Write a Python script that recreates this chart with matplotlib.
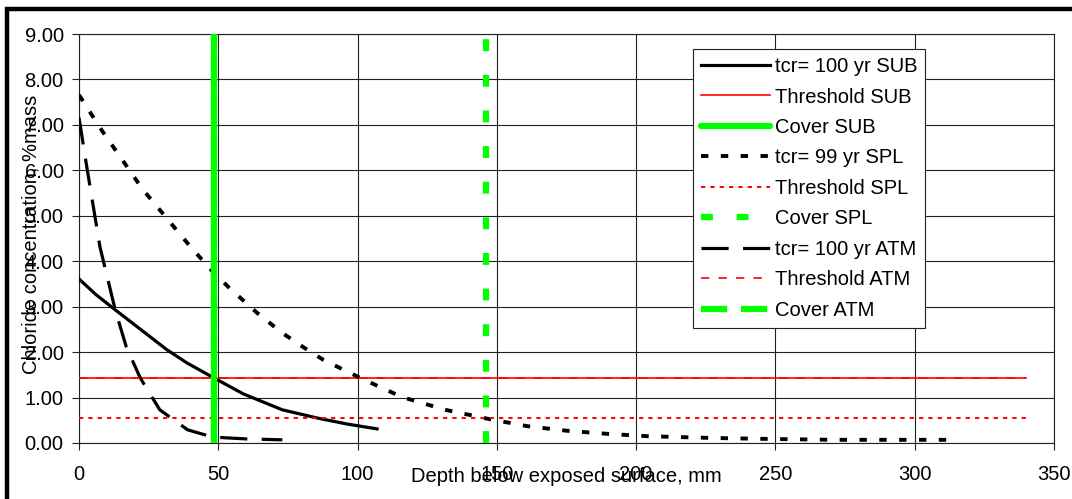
import numpy as np
import matplotlib
matplotlib.use("Agg")
import matplotlib.pyplot as plt
from matplotlib.patches import Rectangle
from matplotlib.ticker import FormatStrFormatter

plt.rcParams["font.family"] = ["Liberation Sans", "DejaVu Sans"]

# chloride profiles (depth mm, %mass)
sub_x = [0, 6, 13, 20, 31.6, 38.8, 48.5, 59, 73, 85.5, 96, 107]
sub_y = [3.61, 3.27, 2.93, 2.6, 2.05, 1.76, 1.43, 1.08, 0.73, 0.55, 0.42, 0.31]

spl_x = [0, 7.5, 23, 40, 48, 54, 64, 73, 80.5, 87.7, 101.7, 116, 131.5, 147,
         161, 175, 190, 204, 228, 247, 271, 301, 315]
spl_y = [7.66, 6.94, 5.57, 4.32, 3.77, 3.41, 2.86, 2.42, 2.11, 1.83, 1.41, 1.01,
         0.73, 0.53, 0.37, 0.27, 0.2, 0.15, 0.11, 0.09, 0.07, 0.07, 0.07]

atm_x = [0, 2.2, 7.5, 13, 17, 22, 29, 39, 48, 60, 73]
atm_y = [7.16, 6.3, 4.32, 2.93, 2.11, 1.43, 0.73, 0.29, 0.13, 0.09, 0.07]

threshold_sub = 1.43
threshold_spl = 0.55
threshold_atm = 1.43
threshold_x = [0, 340]

cover_sub = 48.5
cover_spl = 146
cover_atm = 48.5
cover_y = [0, 9]

green = "#00ff00"
red = "#ff0000"

fig = plt.figure(figsize=(10.72, 4.99), dpi=100)
ax = fig.add_axes([79 / 1072, 1 - 443 / 499, (1054 - 79) / 1072, (443 - 34) / 499])

ax.plot(sub_x, sub_y, color="black", lw=2.3, label="tcr= 100 yr SUB", zorder=3)
ax.plot(threshold_x, [threshold_sub] * 2, color=red, lw=1.2, label="Threshold SUB", zorder=3)
ax.plot([cover_sub] * 2, cover_y, color=green, lw=4.5, label="Cover SUB", zorder=3,
        solid_capstyle="round")
ax.plot(spl_x, spl_y, color="black", lw=2.8, dashes=(1.9, 3.2), label="tcr= 99 yr SPL", zorder=3)
ax.plot(threshold_x, [threshold_spl] * 2, color=red, lw=1.4, dashes=(2.2, 2.6),
        label="Threshold SPL", zorder=3)
ax.plot([cover_spl] * 2, cover_y, color=green, lw=4.5, dashes=(1.9, 3.8),
        label="Cover SPL", zorder=3)
ax.plot(atm_x, atm_y, color="black", lw=2.3, dashes=(8.5, 4.5), label="tcr= 100 yr ATM", zorder=3)
ax.plot(threshold_x, [threshold_atm] * 2, color=red, lw=1.2, dashes=(5, 5.5),
        label="Threshold ATM", zorder=3)
ax.plot([cover_atm] * 2, cover_y, color=green, lw=4.5, dashes=(4.2, 2.2),
        label="Cover ATM", zorder=3)

ax.set_xlim(0, 350)
ax.set_ylim(0, 9)
ax.set_xticks(np.arange(0, 351, 50))
ax.set_yticks(np.arange(0, 9.01, 1))
ax.yaxis.set_major_formatter(FormatStrFormatter("%.2f"))
ax.grid(True, color="#202020", lw=0.8)
ax.set_axisbelow(True)
for s in ax.spines.values():
    s.set_color("#202020")
    s.set_linewidth(0.8)
ax.tick_params(axis="both", labelsize=14.5, direction="out", length=5, width=0.8,
               color="#202020")
ax.tick_params(axis="y", pad=6)
ax.tick_params(axis="x", pad=11)

fig.text(31 / 1072, 1 - 234 / 499, "Chloride concentration, %mass", rotation=90,
         ha="center", va="center", fontsize=14.5)
fig.text(566 / 1072, 1 - 477 / 499, "Depth below exposed surface, mm",
         ha="center", va="center", fontsize=14.5)

leg = ax.legend(loc="upper left", bbox_to_anchor=(693 / 1072, 1 - 49 / 499),
                bbox_transform=fig.transFigure, borderaxespad=0, fontsize=14.5,
                fancybox=False, framealpha=1, edgecolor="#202020",
                handlelength=3.4, handletextpad=0.25, labelspacing=0.57,
                borderpad=0.4)
leg.get_frame().set_linewidth(0.8)

fig.add_artist(Rectangle((6.5 / 1072, -0.1), 1.2, 1 - 9.5 / 499 + 0.1, transform=fig.transFigure,
                         fill=False, edgecolor="black", lw=3.2, clip_on=False))

fig.savefig("out.png", dpi=100)
